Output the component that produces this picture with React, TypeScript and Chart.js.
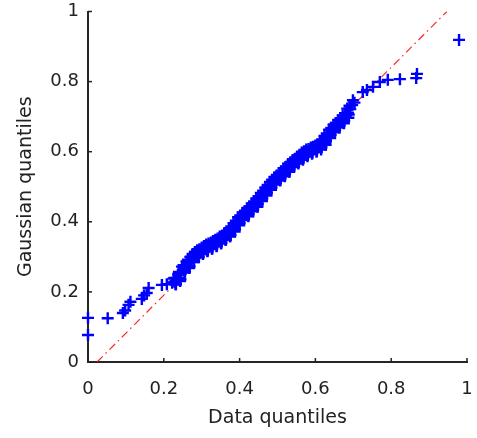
import React, { useEffect, useRef } from "react";
import { Chart, registerables } from "chart.js";

Chart.register(...registerables);

// Sorted data quantiles (x) and Gaussian quantiles (y)
const dataQuantiles = [
  0.0, 0.0, 0.052, 0.092, 0.098, 0.107, 0.112, 0.142, 0.148, 0.155, 0.16, 0.195, 0.208,
  0.222, 0.228, 0.232, 0.236, 0.24, 0.245, 0.25, 0.253, 0.256, 0.262, 0.266, 0.272, 0.278,
  0.284, 0.29, 0.296, 0.302, 0.308, 0.314, 0.32, 0.326, 0.332, 0.338, 0.344, 0.35, 0.356,
  0.362, 0.368, 0.374, 0.38, 0.386, 0.392, 0.398, 0.404, 0.41, 0.416, 0.422, 0.428, 0.434,
  0.44, 0.446, 0.452, 0.458, 0.464, 0.47, 0.476, 0.482, 0.488, 0.494, 0.5, 0.506, 0.512,
  0.518, 0.524, 0.53, 0.536, 0.542, 0.548, 0.554, 0.56, 0.566, 0.572, 0.578, 0.584, 0.59,
  0.596, 0.602, 0.608, 0.614, 0.62, 0.626, 0.632, 0.638, 0.644, 0.65, 0.656, 0.662, 0.668,
  0.674, 0.68, 0.686, 0.692, 0.697, 0.699, 0.703, 0.725, 0.736, 0.752, 0.77, 0.791, 0.823,
  0.866, 0.868, 0.979,
];
const gaussianQuantiles = [
  0.077, 0.126, 0.125, 0.14, 0.147, 0.163, 0.172, 0.18, 0.19, 0.197, 0.211, 0.22, 0.222,
  0.226, 0.229, 0.232, 0.236, 0.24, 0.252, 0.262, 0.265, 0.268, 0.275, 0.282, 0.29, 0.298,
  0.304, 0.31, 0.314, 0.318, 0.322, 0.326, 0.329, 0.332, 0.336, 0.34, 0.344, 0.349, 0.353,
  0.358, 0.363, 0.368, 0.376, 0.384, 0.394, 0.402, 0.41, 0.416, 0.421, 0.428, 0.435, 0.441,
  0.448, 0.455, 0.464, 0.471, 0.479, 0.488, 0.496, 0.504, 0.511, 0.517, 0.523, 0.529, 0.535,
  0.541, 0.548, 0.555, 0.561, 0.566, 0.571, 0.576, 0.582, 0.588, 0.593, 0.597, 0.6, 0.603,
  0.606, 0.609, 0.612, 0.616, 0.624, 0.634, 0.643, 0.652, 0.66, 0.667, 0.674, 0.68, 0.686,
  0.693, 0.701, 0.711, 0.722, 0.733, 0.747, 0.74, 0.77, 0.776, 0.785, 0.799, 0.805, 0.807,
  0.81, 0.822, 0.919,
];
// Extra points on the upper-left edge of the dense band
const bandUpperX = [
  0.226, 0.238, 0.248, 0.26, 0.27, 0.282, 0.294, 0.306, 0.318, 0.33, 0.342, 0.354, 0.366,
  0.378, 0.39, 0.402, 0.414, 0.426, 0.438, 0.45, 0.462, 0.474, 0.486, 0.498, 0.51, 0.522,
  0.534, 0.546, 0.558, 0.57, 0.582, 0.594, 0.606, 0.618, 0.63, 0.642, 0.654, 0.666, 0.678, 0.69,
  0.228, 0.24, 0.252, 0.264, 0.276, 0.288, 0.3, 0.312, 0.324, 0.336, 0.348, 0.36, 0.372,
  0.384, 0.396, 0.408, 0.42, 0.432, 0.444, 0.456, 0.468, 0.48, 0.492, 0.504, 0.516, 0.528,
  0.54, 0.552, 0.564, 0.576, 0.588, 0.6, 0.612, 0.624, 0.636, 0.648, 0.66, 0.672, 0.684,
];
const bandUpperY = [
  0.238, 0.25, 0.272, 0.287, 0.3, 0.314, 0.322, 0.331, 0.338, 0.345, 0.352, 0.361, 0.372,
  0.386, 0.403, 0.418, 0.43, 0.444, 0.457, 0.473, 0.489, 0.505, 0.52, 0.532, 0.544, 0.557,
  0.57, 0.58, 0.591, 0.601, 0.608, 0.614, 0.621, 0.634, 0.652, 0.668, 0.682, 0.694, 0.71, 0.731,
  0.24, 0.257, 0.276, 0.292, 0.308, 0.319, 0.327, 0.335, 0.341, 0.349, 0.358, 0.368, 0.379,
  0.396, 0.413, 0.426, 0.438, 0.452, 0.466, 0.482, 0.498, 0.514, 0.527, 0.539, 0.552, 0.565,
  0.576, 0.586, 0.598, 0.606, 0.612, 0.618, 0.628, 0.645, 0.663, 0.677, 0.69, 0.703, 0.723,
];
// Extra points on the lower-right edge of the dense band
const bandLowerX = [
  0.232, 0.244, 0.256, 0.268, 0.28, 0.292, 0.304, 0.316, 0.328, 0.34, 0.352, 0.364, 0.376,
  0.388, 0.4, 0.412, 0.424, 0.436, 0.448, 0.46, 0.472, 0.484, 0.496, 0.508, 0.52, 0.532,
  0.544, 0.556, 0.568, 0.58, 0.592, 0.604, 0.616, 0.628, 0.64, 0.652, 0.664, 0.676, 0.688,
  0.231, 0.243, 0.255, 0.267, 0.279, 0.291, 0.303, 0.315, 0.327, 0.339, 0.351, 0.363, 0.375,
  0.387, 0.399, 0.411, 0.423, 0.435, 0.447, 0.459, 0.471, 0.483, 0.495, 0.507, 0.519, 0.531,
  0.543, 0.555, 0.567, 0.579, 0.591, 0.603, 0.615, 0.627, 0.639, 0.651, 0.663, 0.675, 0.687,
];
const bandLowerY = [
  0.222, 0.236, 0.258, 0.272, 0.288, 0.3, 0.31, 0.318, 0.324, 0.332, 0.34, 0.35, 0.362,
  0.378, 0.396, 0.41, 0.422, 0.436, 0.45, 0.466, 0.482, 0.498, 0.512, 0.524, 0.536, 0.55,
  0.56, 0.571, 0.582, 0.591, 0.597, 0.603, 0.612, 0.63, 0.647, 0.662, 0.675, 0.688, 0.706,
  0.222, 0.231, 0.255, 0.268, 0.285, 0.299, 0.308, 0.316, 0.323, 0.33, 0.338, 0.348, 0.358,
  0.372, 0.39, 0.405, 0.416, 0.43, 0.443, 0.459, 0.475, 0.491, 0.506, 0.518, 0.53, 0.543,
  0.556, 0.566, 0.577, 0.587, 0.594, 0.6, 0.606, 0.62, 0.639, 0.655, 0.669, 0.681, 0.697,
];
// Reference line endpoints
const refLineX = [0.024, 0.947];
const refLineY = [0, 1];
const tickValues = [0, 0.2, 0.4, 0.6, 0.8, 1];

const inwardTicks = {
  id: "inwardTicks",
  afterDraw(chart: any) {
    const { ctx, chartArea } = chart;
    const xs = chart.scales.x;
    const ys = chart.scales.y;
    ctx.save();
    ctx.strokeStyle = "#222";
    ctx.lineWidth = 1.5;
    tickValues.forEach((v) => {
      const px = xs.getPixelForValue(v);
      ctx.beginPath();
      ctx.moveTo(px, chartArea.bottom);
      ctx.lineTo(px, chartArea.bottom - 4);
      ctx.stroke();
      const py = ys.getPixelForValue(v);
      ctx.beginPath();
      ctx.moveTo(chartArea.left, py);
      ctx.lineTo(chartArea.left + 4, py);
      ctx.stroke();
    });
    ctx.restore();
  },
};

export default function App() {
  const ref = useRef<HTMLCanvasElement>(null);
  useEffect(() => {
    document.body.style.margin = "0";
    const font = "'DejaVu Sans', sans-serif";
    const pts = [
      ...dataQuantiles.map((x, i) => ({ x, y: gaussianQuantiles[i] })),
      ...bandUpperX.map((x, i) => ({ x, y: bandUpperY[i] })),
      ...bandLowerX.map((x, i) => ({ x, y: bandLowerY[i] })),
    ];
    const fmt = (v: any) => String(Math.round(Number(v) * 10) / 10);
    const chart = new Chart(ref.current!, {
      type: "scatter",
      data: {
        datasets: [
          {
            data: pts,
            pointStyle: "cross",
            pointRadius: 6,
            pointBorderWidth: 2.4,
            borderColor: "#0000ff",
            backgroundColor: "#0000ff",
            showLine: false,
            clip: false,
          } as any,
          {
            type: "line",
            data: refLineX.map((x, i) => ({ x, y: refLineY[i] })),
            borderColor: "rgba(255,0,0,0.85)",
            borderWidth: 1.2,
            borderDash: [8, 4, 1.5, 4],
            pointRadius: 0,
            fill: false,
          } as any,
        ],
      },
      plugins: [inwardTicks],
      options: {
        animation: false,
        responsive: true,
        maintainAspectRatio: false,
        layout: { padding: { top: 11.5, right: 10, left: 0, bottom: 0 } },
        plugins: { legend: { display: false }, tooltip: { enabled: false } },
        scales: {
          x: {
            type: "linear",
            min: 0,
            max: 1,
            afterFit: (s: any) => {
              s.height = 76;
              s.paddingLeft = 0;
              s.paddingRight = 0;
            },
            afterBuildTicks: (s: any) => {
              s.ticks = tickValues.map((v) => ({ value: v }));
            },
            grid: { display: true, drawOnChartArea: false, drawTicks: false },
            border: { display: true, color: "#262626", width: 2 },
            ticks: {
              padding: 17,
              color: "#222",
              font: { family: font, size: 18 },
              maxRotation: 0,
              callback: fmt,
            },
            title: {
              display: true,
              text: "Data quantiles",
              color: "#222",
              font: { family: font, size: 19 },
              padding: { top: 0, bottom: 9 },
            },
          },
          y: {
            type: "linear",
            min: 0,
            max: 1,
            afterFit: (s: any) => {
              s.width = 88;
              s.paddingTop = 0;
              s.paddingBottom = 0;
            },
            afterBuildTicks: (s: any) => {
              s.ticks = tickValues.map((v) => ({ value: v }));
            },
            grid: { display: true, drawOnChartArea: false, drawTicks: false },
            border: { display: true, color: "#262626", width: 2 },
            ticks: {
              padding: 9,
              color: "#222",
              font: { family: font, size: 18 },
              callback: fmt,
            },
            title: {
              display: true,
              text: "Gaussian quantiles",
              color: "#222",
              font: { family: font, size: 19 },
              padding: { top: 15, bottom: 0 },
            },
          },
        },
      },
    });
    return () => chart.destroy();
  }, []);
  return (
    <div style={{ position: "fixed", left: 0, top: 0, width: 477, height: 438, background: "#fff" }}>
      <canvas ref={ref} style={{ filter: "blur(0.4px)" }} />
    </div>
  );
}
